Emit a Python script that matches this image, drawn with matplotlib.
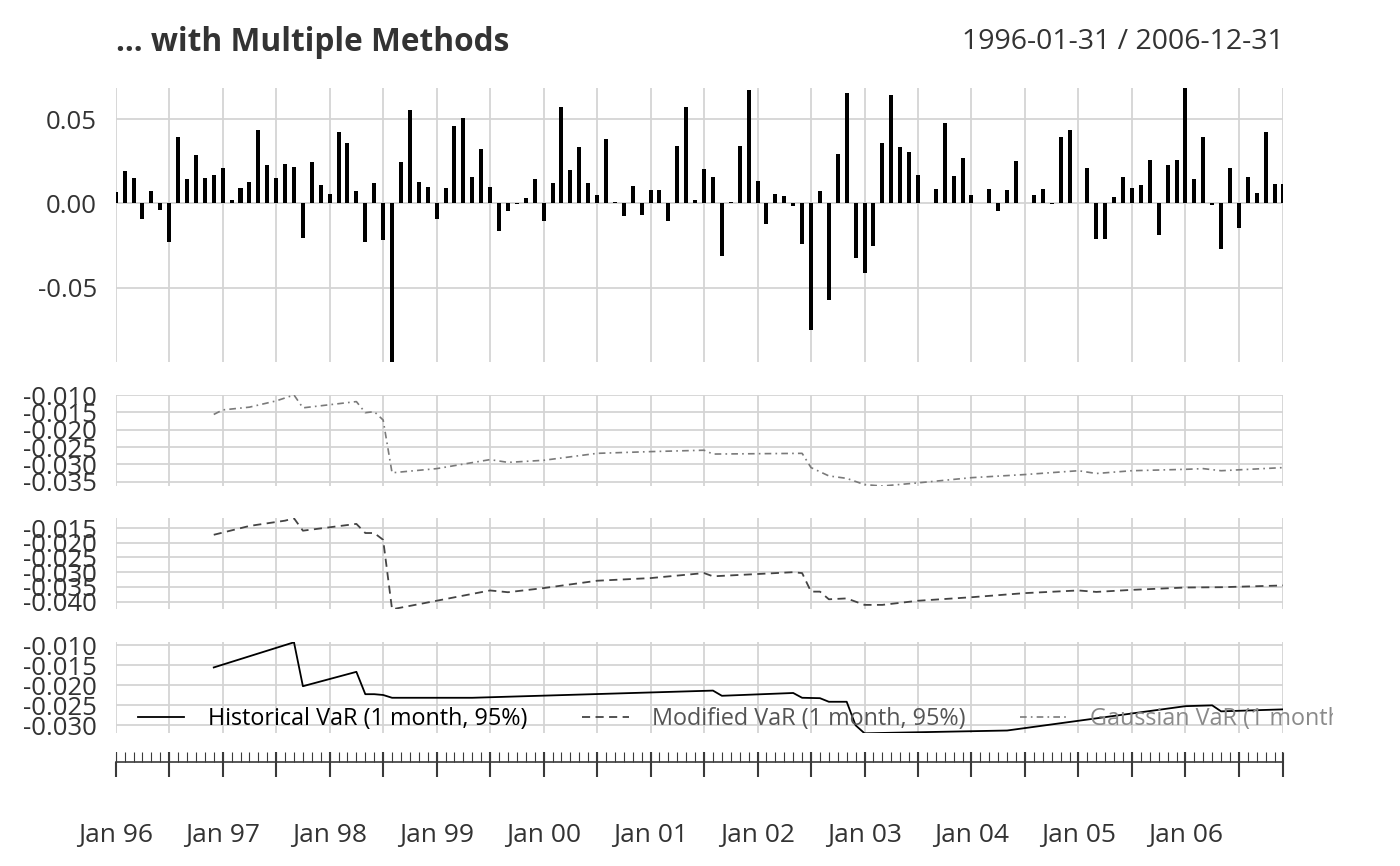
import matplotlib
matplotlib.use('Agg')
import matplotlib.pyplot as plt
import numpy as np
from matplotlib.ticker import FixedLocator, FuncFormatter, MultipleLocator
from matplotlib.transforms import Bbox, TransformedBbox

plt.rcParams['font.family'] = ['Open Sans', 'DejaVu Sans']
plt.rcParams['axes.unicode_minus'] = False

# monthly returns, Jan 1996 .. Dec 2006
returns = [
    0.0069, 0.0192, 0.0152, -0.0091, 0.0073, -0.0040, -0.0232, 0.0392, 0.0145, 0.0285, 0.0154, 0.0172,
    0.0210, 0.0020, 0.0091, 0.0125, 0.0436, 0.0228, 0.0150, 0.0234, 0.0216, -0.0208, 0.0248, 0.0107,
    0.0055, 0.0426, 0.0358, 0.0075, -0.0232, 0.0119, -0.0216, -0.0944, 0.0246, 0.0554, 0.0125, 0.0095,
    -0.0093, 0.0093, 0.0459, 0.0507, 0.0160, 0.0323, 0.0095, -0.0164, -0.0046, -0.0005, 0.0032, 0.0145,
    -0.0103, 0.0121, 0.0572, 0.0200, 0.0337, 0.0121, 0.0048, 0.0384, 0.0010, -0.0077, 0.0101, -0.0069,
    0.0077, 0.0079, -0.0107, 0.0343, 0.0576, 0.0020, 0.0204, 0.0158, -0.0311, 0.0008, 0.0339, 0.0673,
    0.0133, -0.0125, 0.0059, 0.0044, -0.0014, -0.0242, -0.0754, 0.0073, -0.0576, 0.0293, 0.0657, -0.0325,
    -0.0412, -0.0251, 0.0362, 0.0647, 0.0333, 0.0305, 0.0172, 0.0000, 0.0087, 0.0477, 0.0166, 0.0273,
    0.0050, 0.0000, 0.0083, -0.0044, 0.0079, 0.0255, 0.0000, 0.0051, 0.0085, -0.0002, 0.0392, 0.0436,
    0.0000, 0.0212, -0.0210, -0.0210, 0.0040, 0.0158, 0.0089, 0.0109, 0.0257, -0.0188, 0.0228, 0.0257,
    0.0689, 0.0143, 0.0392, -0.0010, -0.0269, 0.0212, -0.0145, 0.0158, 0.0065, 0.0422, 0.0113, 0.0113,
]

gauss_months = ['1996-12', '1997-01', '1997-04', '1997-07', '1997-09', '1997-10', '1998-04', '1998-05',
                '1998-06', '1998-07', '1998-08', '1999-01', '1999-07', '1999-09', '2000-01', '2000-07',
                '2001-01', '2001-07', '2001-08', '2002-06', '2002-07', '2002-09', '2002-11', '2003-01',
                '2003-03', '2003-07', '2004-01', '2004-07', '2005-01', '2005-03', '2005-07', '2006-01',
                '2006-03', '2006-05', '2006-12']
gauss_var = [-0.0156, -0.0143, -0.0135, -0.0117, -0.0100, -0.0137, -0.0119, -0.0151,
             -0.0148, -0.0172, -0.0324, -0.0312, -0.0286, -0.0294, -0.0288, -0.0268,
             -0.0263, -0.0259, -0.0270, -0.0268, -0.0309, -0.0333, -0.0340, -0.0358,
             -0.0362, -0.0353, -0.0338, -0.0329, -0.0318, -0.0326, -0.0318, -0.0314,
             -0.0312, -0.0318, -0.0309]

mod_months = ['1996-12', '1997-04', '1997-08', '1997-09', '1997-10', '1998-04', '1998-05', '1998-06',
              '1998-07', '1998-08', '1999-01', '1999-07', '1999-09', '2000-01', '2000-07', '2001-01',
              '2001-07', '2001-08', '2002-05', '2002-06', '2002-07', '2002-08', '2002-09', '2002-11',
              '2003-01', '2003-03', '2003-07', '2004-01', '2004-07', '2005-01', '2005-03', '2005-07',
              '2006-01', '2006-05', '2006-12']
mod_var = [-0.0173, -0.0143, -0.0125, -0.0117, -0.0159, -0.0136, -0.0167, -0.0167,
           -0.0190, -0.0426, -0.0397, -0.0362, -0.0368, -0.0354, -0.0329, -0.0320,
           -0.0303, -0.0314, -0.0300, -0.0303, -0.0366, -0.0366, -0.0392, -0.0389,
           -0.0411, -0.0411, -0.0397, -0.0385, -0.0371, -0.0362, -0.0367, -0.0360,
           -0.0352, -0.0351, -0.0345]

hist_months = ['1996-12', '1997-09', '1997-10', '1998-04', '1998-05', '1998-06', '1998-07', '1998-08',
               '1999-05', '2001-08', '2001-09', '2002-05', '2002-06', '2002-08', '2002-09', '2002-11',
               '2002-12', '2003-01', '2004-05', '2006-01', '2006-04', '2006-05', '2006-12']
hist_var = [-0.0155, -0.0092, -0.0202, -0.0166, -0.0222, -0.0222, -0.0224, -0.0231,
            -0.0231, -0.0213, -0.0226, -0.0219, -0.0231, -0.0232, -0.0241, -0.0241,
            -0.0300, -0.0320, -0.0313, -0.0252, -0.0250, -0.0265, -0.0260]

legend_labels = ['Historical VaR (1 month, 95%)', 'Modified VaR (1 month, 95%)',
                 'Gaussian VaR (1 month, 95%)']


def month_idx(m):
    y, mo = m.split('-')
    return (int(y) - 1996) * 12 + int(mo) - 1


n = len(returns)
x = np.arange(n)
last = n - 1
major = list(range(0, n, 6)) + [last]

W, H = 1400, 866
fig = plt.figure(figsize=(W / 100, H / 100), dpi=100)
left = 115.7 / W
width = (1283.5 - 115.7) / W


def panel(top, bottom):
    return fig.add_axes([left, (H - bottom) / H, width, (bottom - top) / H])


grid_c = '#d4d4d4'
text_c = '#333333'
ytick_fs = 18.5
xtick_fs = 19
legend_fs = 16.8


def style(ax, ymin, ymax, step, fmt):
    ax.set_xlim(0, last)
    ax.set_ylim(ymin, ymax)
    for s in ax.spines.values():
        s.set_visible(False)
    ax.xaxis.set_major_locator(FixedLocator(major))
    ax.yaxis.set_major_locator(MultipleLocator(step))
    ax.yaxis.set_major_formatter(FuncFormatter(lambda v, p: fmt % v))
    ax.tick_params(axis='x', length=0, labelbottom=False)
    ax.tick_params(axis='y', length=0, pad=13.5, labelsize=ytick_fs, labelcolor=text_c)
    ax.grid(True, color=grid_c, linewidth=1.3)
    ax.set_axisbelow(True)


ax1 = panel(87.5, 362.3)
ax1.bar(x, returns, width=0.45, color='black', zorder=3)
style(ax1, min(returns), max(returns), 0.05, '%.2f')

ax2 = panel(395.0, 486.0)
ax2.plot([month_idx(m) for m in gauss_months], gauss_var, color='#7a7a7a',
         linewidth=1.2, linestyle=(0, (4, 2.5, 1, 2.5)))
style(ax2, min(gauss_var), max(gauss_var), 0.005, '%.3f')

ax3 = panel(518.3, 609.3)
ax3.plot([month_idx(m) for m in mod_months], mod_var, color='#444444',
         linewidth=1.3, linestyle=(0, (4.5, 3)))
style(ax3, min(mod_var), max(mod_var), 0.005, '%.3f')

ax4 = panel(642.3, 733.3)
l_hist, = ax4.plot([month_idx(m) for m in hist_months], hist_var, color='black', linewidth=1.3)
style(ax4, min(hist_var), max(hist_var), 0.005, '%.3f')

l_mod, = ax4.plot([], [], color='#444444', linewidth=1.3, linestyle=(0, (4.5, 3)))
l_gau, = ax4.plot([], [], color='#7a7a7a', linewidth=1.2, linestyle=(0, (4, 2.5, 1, 2.5)))
leg = ax4.legend([l_hist, l_mod, l_gau], legend_labels, ncol=3, frameon=False,
                 loc='center left', bbox_to_anchor=(22 / 1167.8, 0.16),
                 borderaxespad=0, borderpad=0, handlelength=2.0, handletextpad=1.0,
                 columnspacing=2.35, fontsize=legend_fs)
clip = TransformedBbox(Bbox.from_extents(0, 0, 1333 / W, 1), fig.transFigure)
for t, c in zip(leg.get_texts(), ['black', '#555555', '#8a8a8a']):
    t.set_color(c)
    t.set_clip_box(clip)
    t.set_clip_on(True)

# date axis
axx = fig.add_axes([left, (H - 761.7) / H, width, 10 / H])
axx.set_xlim(0, last)
axx.set_ylim(0, 1)
axx.patch.set_visible(False)
for k, s in axx.spines.items():
    s.set_visible(k == 'bottom')
axx.spines['bottom'].set_color('#3a3a3a')
axx.spines['bottom'].set_linewidth(1.2)
axx.set_yticks([])
axx.xaxis.set_major_locator(FixedLocator(major))
axx.xaxis.set_minor_locator(FixedLocator(list(x)))
axx.xaxis.remove_overlapping_locs = False
axx.xaxis.set_major_formatter(FuncFormatter(
    lambda v, p: 'Jan %02d' % ((96 + int(round(v)) // 12) % 100) if int(round(v)) % 12 == 0 and v < last else ''))
axx.tick_params(axis='x', which='major', direction='out', length=10.8, width=1.5,
                color='#3a3a3a', pad=33.5, labelsize=xtick_fs, labelcolor=text_c)
axx.tick_params(axis='x', which='minor', direction='in', length=7.2, width=0.8, color='#3a3a3a')
axx.grid(True, which='major', axis='x', color='#3a3a3a', linewidth=1.5)

fig.text(left, (H - 42.5) / H, '... with Multiple Methods', fontsize=22.8, fontweight='bold',
         color=text_c, ha='left', va='center')
fig.text(1283.5 / W, (H - 42.0) / H, '1996-01-31 / 2006-12-31', fontsize=20.5,
         color=text_c, ha='right', va='center')

fig.savefig('out.png', dpi=100)
